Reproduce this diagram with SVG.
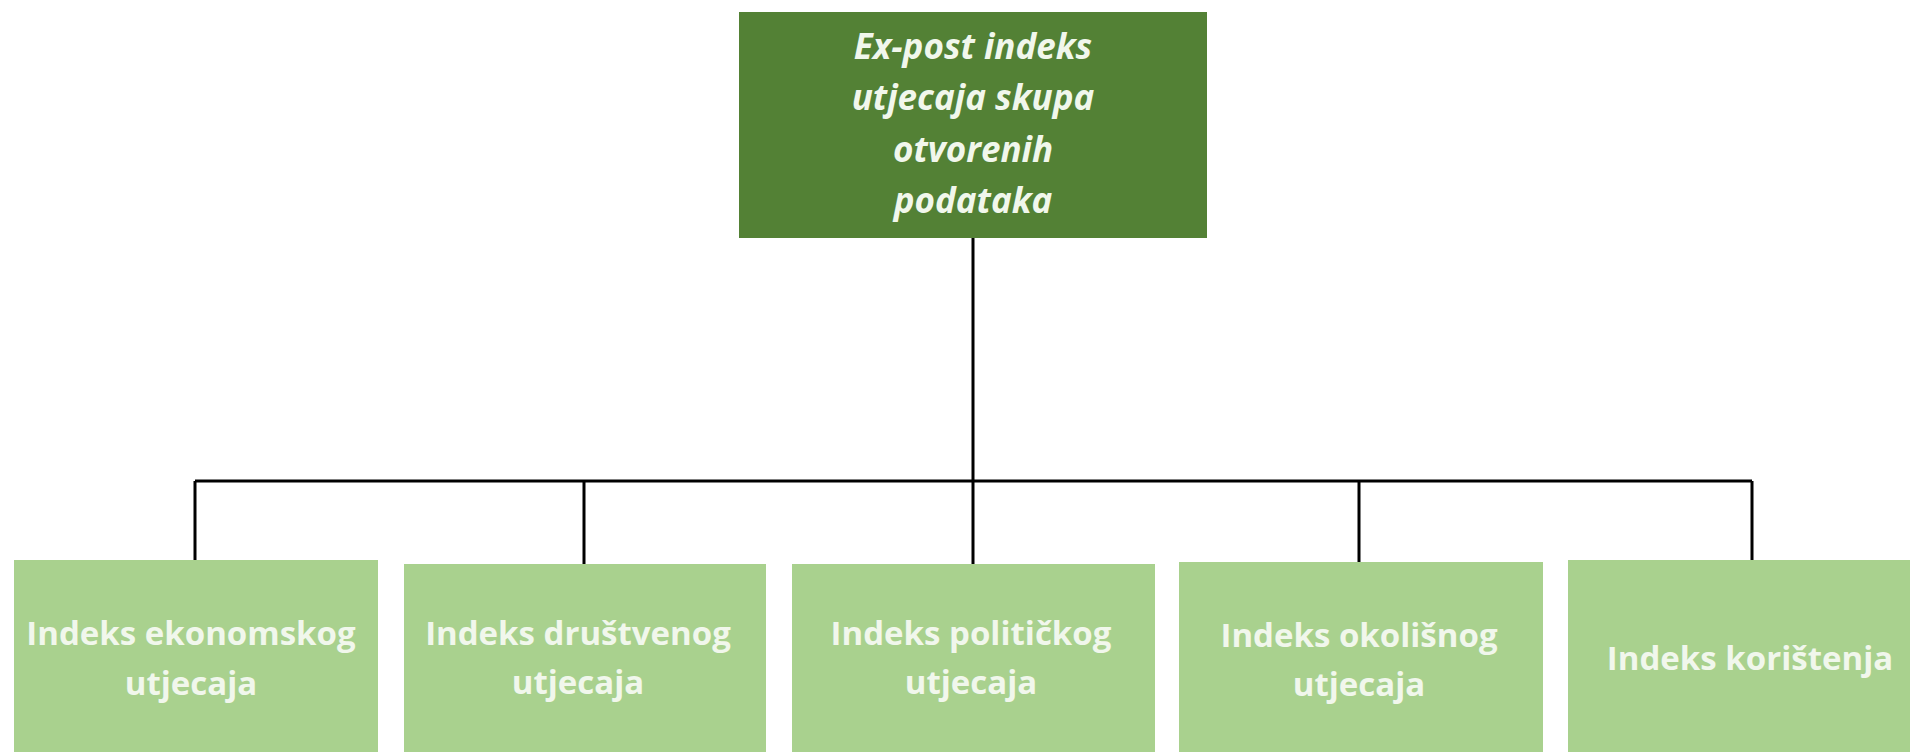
<svg xmlns="http://www.w3.org/2000/svg" width="1910" height="752" viewBox="0 0 1910 752">
<style>
.root{fill:#538135}
.leaf{fill:#A9D18E}
.t{font-family:"Open Sans","Liberation Sans",sans-serif;font-weight:bold;fill:#F1F7EC;text-anchor:middle;font-size:33px}
.ti{font-style:italic;font-size:35px}
.c{stroke:#000;stroke-width:3;fill:none}
</style>
<rect width="1910" height="752" fill="#fff"/>
<g id="connectors">
<path class="c" d="M973 238V481M195 481H1752M195 481V560M584 481V564M973 481V564M1359 481V562M1752 481V560"/>
</g>
<g id="root">
<rect class="root" x="739" y="12" width="468" height="226"/>
<text class="t ti" x="973" y="59">Ex-post indeks</text>
<text class="t ti" x="973" y="110">utjecaja skupa</text>
<text class="t ti" x="973" y="162">otvorenih</text>
<text class="t ti" x="973" y="213">podataka</text>
</g>
<g id="n1">
<rect class="leaf" x="14" y="560" width="364" height="192"/>
<text class="t" x="191" y="645">Indeks ekonomskog</text>
<text class="t" x="191" y="695">utjecaja</text>
</g>
<g id="n2">
<rect class="leaf" x="404" y="564" width="362" height="188"/>
<text class="t" x="578" y="645">Indeks društvenog</text>
<text class="t" x="578" y="694">utjecaja</text>
</g>
<g id="n3">
<rect class="leaf" x="792" y="564" width="363" height="188"/>
<text class="t" x="971" y="645">Indeks političkog</text>
<text class="t" x="971" y="694">utjecaja</text>
</g>
<g id="n4">
<rect class="leaf" x="1179" y="562" width="364" height="190"/>
<text class="t" x="1359" y="647">Indeks okolišnog</text>
<text class="t" x="1359" y="696">utjecaja</text>
</g>
<g id="n5">
<rect class="leaf" x="1568" y="560" width="342" height="192"/>
<text class="t" x="1750" y="670">Indeks korištenja</text>
</g>
</svg>
